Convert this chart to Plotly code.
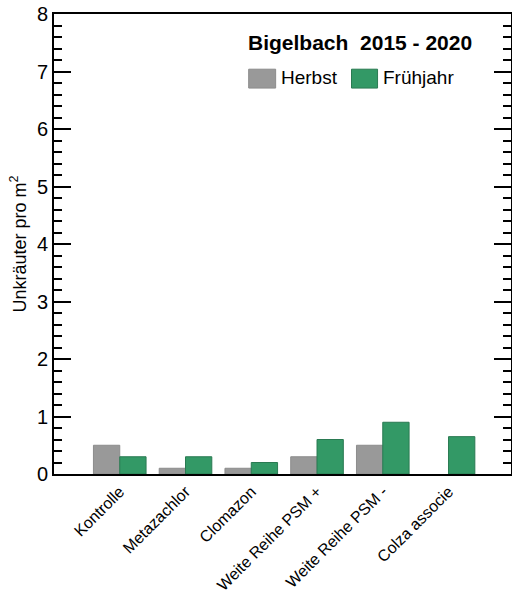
import plotly.graph_objects as go

categories = ["Kontrolle", "Metazachlor", "Clomazon", "Weite Reihe PSM +", "Weite Reihe PSM -", "Colza associe"]
herbst = [0.5, 0.1, 0.1, 0.3, 0.5, None]
fruehjahr = [0.3, 0.3, 0.2, 0.6, 0.9, 0.65]
series_names = ["Herbst", "Frühjahr"]
legend_title = "Bigelbach&nbsp;&nbsp;2015 - 2020"
y_title = "Unkräuter pro m<sup>2</sup>"

gray = "#999999"
green = "#339966"
font = "Liberation Sans, Arial, sans-serif"

fig = go.Figure()
fig.add_trace(go.Bar(x=categories, y=herbst, name=series_names[0],
                     marker=dict(color=gray, line=dict(color="#8c8c8c", width=1)),
                     showlegend=False))
fig.add_trace(go.Bar(x=categories, y=fruehjahr, name=series_names[1],
                     marker=dict(color=green, line=dict(color="#2a7a52", width=1)),
                     showlegend=False))

# custom legend (large swatches)
fig.add_annotation(xref="paper", yref="paper", x=0.42, y=0.937, xanchor="left", yanchor="middle",
                   text="<b>" + legend_title + "</b>", showarrow=False,
                   font=dict(family=font, size=21, color="black"))
sw = [(0.426, 0.485, gray, "#8c8c8c", series_names[0]), (0.651, 0.708, green, "#2a7a52", series_names[1])]
for x0, x1, c, lc, name in sw:
    fig.add_shape(type="rect", xref="paper", yref="paper", x0=x0, x1=x1, y0=0.839, y1=0.880,
                  fillcolor=c, line=dict(color=lc, width=1))
    fig.add_annotation(xref="paper", yref="paper", x=x1 + 0.008, y=0.861, xanchor="left", yanchor="middle",
                       text=name, showarrow=False, font=dict(family=font, size=19, color="black"))

fig.update_layout(
    width=512, height=604,
    margin=dict(l=54, r=1, t=14, b=130),
    paper_bgcolor="white", plot_bgcolor="white",
    barmode="group", bargap=0.2, bargroupgap=0,
    font=dict(family=font, color="black"),
    xaxis=dict(range=[-1, 5.95], showline=True, linecolor="black", linewidth=2, mirror=True,
               ticks="", tickangle=-45, tickfont=dict(size=16), showgrid=False, automargin=False),
    yaxis=dict(range=[0, 8], dtick=1, showline=True, linecolor="black", linewidth=2, mirror="ticks",
               ticks="inside", ticklen=17, tickwidth=2, tickcolor="black",
               tickfont=dict(size=20), showgrid=False, zeroline=False, automargin=False,
               minor=dict(dtick=0.2, ticks="inside", ticklen=8, tickwidth=2, tickcolor="black", showgrid=False),
               title=dict(text=y_title, font=dict(size=18), standoff=6)),
)

fig.write_html("out.html", config={"responsive": False, "displayModeBar": False},
               post_script="document.body.style.margin='0';document.body.style.overflow='hidden';")
